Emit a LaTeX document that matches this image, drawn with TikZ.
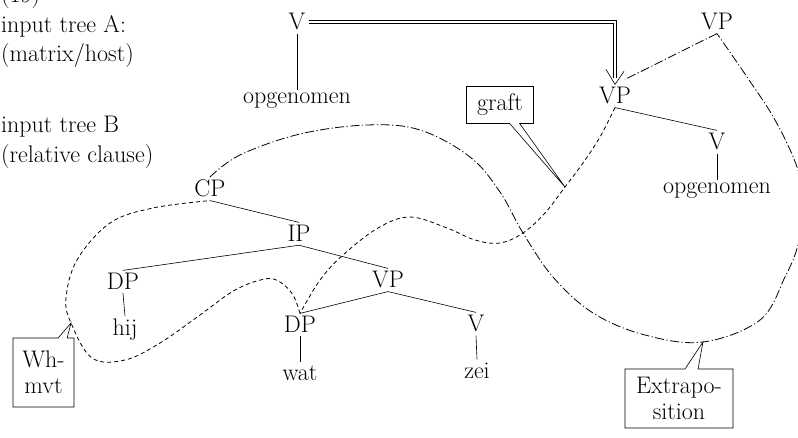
\documentclass[tikz,border=0pt]{standalone}
\usetikzlibrary{shapes.callouts,calc}
\begin{document}
\begin{tikzpicture}[x=1pt,y=-1pt,
  every node/.style={font=\fontsize{24}{26}\selectfont, inner sep=3pt},
  lbl/.style={anchor=base},
  side/.style={anchor=base west},
  tr/.style={line width=0.6pt},
  dsh/.style={line width=0.8pt, dash pattern=on 4pt off 3pt},
  dd/.style={line width=0.8pt, dash pattern=on 9pt off 2.5pt on 1.2pt off 2.5pt},
  dbl/.style={double, double distance=2.4pt, line width=0.6pt},
  cbox/.style={rectangle callout, draw, fill=white, line width=0.6pt, align=center, inner sep=0pt}
]
\useasboundingbox (0,0) rectangle (798,438);

% side labels
\node[side] (num) at (-2,3) {(19)};
\node[side] (inA) at (-2,33) {input tree A:};
\node[side] (inA2) at (-2,62) {(matrix/host)};
\node[side] (inB) at (-2,133) {input tree B};
\node[side] (inB2) at (-2,163) {(relative clause)};

% tree A
\node[lbl] (Vup) at (297,30) {V};
\node[lbl] (opu) at (297,104) {opgenomen};
\node[lbl] (VPt) at (717,30) {VP};
\node[lbl] (VPl) at (615,104) {VP};
\node[lbl] (Vl) at (717,150) {V};
\node[lbl] (opl) at (717,194) {opgenomen};

% tree B
\node[lbl] (CP) at (210,197) {CP};
\node[lbl] (IP) at (299,242) {IP};
\node[lbl] (DPh) at (123,290) {DP};
\node[lbl] (hij) at (125,336) {hij};
\node[lbl] (VPb) at (388,288) {VP};
\node[lbl] (DPw) at (300,333) {DP};
\node[lbl] (wat) at (300,380) {wat};
\node[lbl] (Vz) at (476,332) {V};
\node[lbl] (zei) at (477,378) {zei};

% tree lines
\draw[tr] (Vup.south) -- (opu.north);
\draw[tr] (VPl.south) -- (Vl.north);
\draw[tr] (Vl.south) -- (opl.north);
\draw[tr] (CP.south) -- (IP.north);
\draw[tr] (IP.south) -- (DPh.north);
\draw[tr] (IP.south) -- (VPb.north);
\draw[tr] (DPh.south) -- (hij.north);
\draw[tr] (VPb.south) -- (DPw.north);
\draw[tr] (VPb.south) -- (Vz.north);
\draw[tr] (DPw.south) -- (wat.north);
\draw[tr] (Vz.south) -- (zei.north);

% double arrow from V to lower VP
\coordinate (arrend) at ($(VPl.north)+(0,-6)$);
\draw[dbl] (Vup.east) -| (arrend);
\draw[tr] ($(VPl.north)+(-9,-15)$) -- (VPl.north) -- ($(VPl.north)+(9,-13)$);

% callout tips
\coordinate (etip) at (703,342);
\coordinate (gtip) at (565,187);
\coordinate (wtip) at (71,323);

% dash-dot (extraposition)
\draw[dd] (VPt.south) -- ($(VPl.north)+(10,-5)$);
\draw[dd] plot[smooth, tension=0.6] coordinates {(CP.north) (240,155) (300,134) (367,125) (420,130) (470,157) (500,192) (523,233) (553,277) (593,313) (645,335) (etip) (760,320) (785,277) (798,245) (804,205) (797,167) (775,120) (747,77) (VPt.south)};

% dashed (graft)
\draw[dsh] plot[smooth, tension=0.6] coordinates {(VPl.south) (600,137) (583,163) (gtip) (545,213) (523,233) (500,243) (475,240) (447,228) (410,217) (378,228) (343,255) (320,280) (DPw.north)};

% dashed (wh-movement)
\draw[dsh] plot[smooth, tension=0.6] coordinates {(DPw.north) (293,295) (280,282) (265,279) (235,290) (200,315) (160,343) (125,360) (92,358) (wtip) (66,298) (77,260) (110,223) (153,208) (CP.south)};

% callout boxes
\node[cbox, minimum width=67pt, minimum height=37pt, callout absolute pointer={(gtip)}, callout pointer width=10pt] (graft) at (500,105) {graft};
\node[cbox, minimum width=61pt, minimum height=69pt, callout absolute pointer={(wtip)}, callout pointer width=9pt] (wh) at (43.5,372.5) {Wh-\\mvt};
\node[cbox, minimum width=108pt, minimum height=59pt, callout absolute pointer={(etip)}, callout pointer width=13pt] (ext) at (679,398.5) {Extrapo-\\sition};
\end{tikzpicture}
\end{document}
